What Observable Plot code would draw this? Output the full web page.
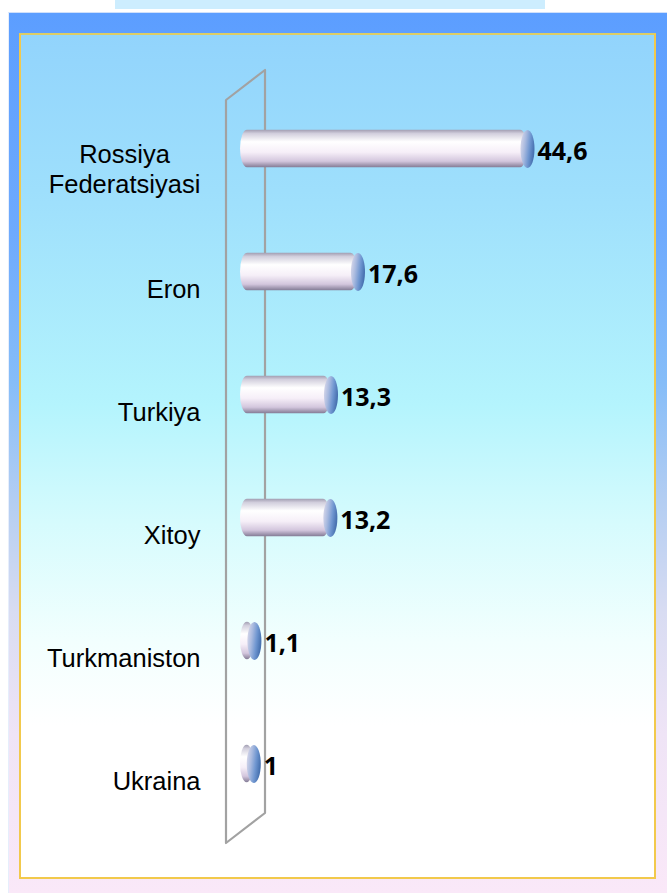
<!DOCTYPE html>
<html>
<head>
<meta charset="utf-8">
<script src="https://cdn.jsdelivr.net/npm/d3@7"></script>
<script src="https://cdn.jsdelivr.net/npm/@observablehq/plot@0.6"></script>
<style>
  html, body { margin: 0; padding: 0; background: #ffffff; }
  #page { position: relative; width: 667px; height: 894px; overflow: hidden; background: #ffffff; }
  #strip { position: absolute; left: 115px; top: 0; width: 430px; height: 9px; background: #cdedfe; }
  #frame { position: absolute; left: 8px; top: 12px; width: 659px; height: 881px;
    background: linear-gradient(to bottom, #5c9eff 0%, #6eaafd 25%, #86bdf8 42%, #b2cdf2 55%, #d8dcf2 68%, #efe4f6 82%, #fae8f8 100%);
    border-left: 1px solid #e6eefc; border-top: 1px solid #cfe0fb; box-sizing: border-box; }
  #panel { position: absolute; left: 19px; top: 33px; width: 637px; height: 846px; box-sizing: border-box;
    border: 2px solid #f2c94c; border-top-color: #dccd66;
    background: linear-gradient(to bottom, #92d4fc 0%, #9fe0fc 20%, #b4f4fd 44%, #d6fbfd 58%, #f2fffe 72%, #ffffff 82%, #ffffff 100%); }
  #chart { position: absolute; left: 0; top: 0; }
</style>
</head>
<body>
<div id="page">
  <div id="strip"></div>
  <div id="frame"></div>
  <div id="panel"></div>
  <div id="chart"></div>
</div>
<script>
// ---- data ----
const countries = ["Rossiya\nFederatsiyasi", "Eron", "Turkiya", "Xitoy", "Turkmaniston", "Ukraina"];
const shares = [44.6, 17.6, 13.3, 13.2, 1.1, 1];

const data = countries.map((c, i) => ({country: c, value: shares[i]}));
const fmt = v => String(v).replace(".", ",");

// elliptical end-cap symbol for the cylinders
const ellipseSymbol = {
  draw(ctx, size) {
    const r = Math.sqrt(size / Math.PI);
    const rx = r * 0.37, ry = r, k = 0.5523;
    ctx.moveTo(rx, 0);
    ctx.bezierCurveTo(rx, k * ry, k * rx, ry, 0, ry);
    ctx.bezierCurveTo(-k * rx, ry, -rx, k * ry, -rx, 0);
    ctx.bezierCurveTo(-rx, -k * ry, -k * rx, -ry, 0, -ry);
    ctx.bezierCurveTo(k * rx, -ry, rx, -k * ry, rx, 0);
    ctx.closePath();
  }
};

// 3D back wall of the category axis
function wall(index, scales, values, dims) {
  const x0 = (scales && typeof scales.x === "function") ? scales.x(0) : dims.marginLeft;
  const yTop = dims.marginTop, yBot = dims.height - dims.marginBottom;
  const xl = x0 - 21, xr = x0 + 18;
  const p = `M${xl},${yTop + 15}L${xr},${yTop - 15}L${xr},${yBot - 14}L${xl},${yBot + 16}Z`;
  const path = document.createElementNS("http://www.w3.org/2000/svg", "path");
  path.setAttribute("d", p);
  path.setAttribute("fill", "none");
  path.setAttribute("stroke", "#a2a2a2");
  path.setAttribute("stroke-width", "2.2");
  path.setAttribute("stroke-linejoin", "round");
  return path;
}

const labelFont = "'Liberation Sans', Arial, sans-serif";
const valueFont = "'Open Sans', 'DejaVu Sans', sans-serif";

const chart = Plot.plot({
  width: 667,
  height: 894,
  marginLeft: 247,
  marginRight: 140,
  marginTop: 85,
  marginBottom: 67,
  style: {background: "transparent", overflow: "visible"},
  x: {domain: [0, 44.6], axis: null},
  y: {domain: countries, axis: null, padding: 0},
  marks: [
    wall,
    Plot.barX(data, {
      x: "value", y: "country",
      fill: "url(#cylBody)",
      rx: 7, ry: 19,
      insetTop: 42.8, insetBottom: 42.8, insetLeft: -7
    }),
    Plot.dot(data, {
      x: "value", y: "country",
      r: 19, symbol: ellipseSymbol,
      fill: "url(#cylCap)", stroke: "none"
    }),
    Plot.text(data, {
      x: "value", y: "country",
      text: d => fmt(d.value),
      textAnchor: "start", dx: 10, dy: 3,
      fontSize: 25, fontWeight: "bold", fontFamily: valueFont, fill: "#000"
    }),
    Plot.text(data.filter(d => !d.country.includes("\n")), {
      y: "country", text: "country",
      frameAnchor: "left", textAnchor: "end", dx: -47, dy: 18,
      fontSize: 25.5, fontFamily: labelFont, fill: "#000"
    }),
    Plot.text(data.filter(d => d.country.includes("\n")), {
      y: "country", text: "country",
      frameAnchor: "left", textAnchor: "middle", dx: -123, dy: 19,
      lineHeight: 1.18,
      fontSize: 25.5, fontFamily: labelFont, fill: "#000"
    })
  ]
});

// gradients for the cylinder shading
const defs = d3.select(chart).insert("defs", ":first-child");
const body = defs.append("linearGradient").attr("id", "cylBody")
  .attr("x1", 0).attr("y1", 0).attr("x2", 0).attr("y2", 1);
[[0, "#a29eb2"], [0.1, "#d2cfdd"], [0.32, "#ffffff"], [0.6, "#f6eff8"], [0.84, "#d3c6dd"], [1, "#847c96"]]
  .forEach(([o, c]) => body.append("stop").attr("offset", o).attr("stop-color", c));
const cap = defs.append("linearGradient").attr("id", "cylCap")
  .attr("x1", 0).attr("y1", 0).attr("x2", 1).attr("y2", 0.3);
[[0, "#e2deec"], [0.4, "#a9badf"], [0.72, "#6f96d0"], [1, "#4a74b2"]]
  .forEach(([o, c]) => cap.append("stop").attr("offset", o).attr("stop-color", c));

document.getElementById("chart").appendChild(chart);
</script>
</body>
</html>
